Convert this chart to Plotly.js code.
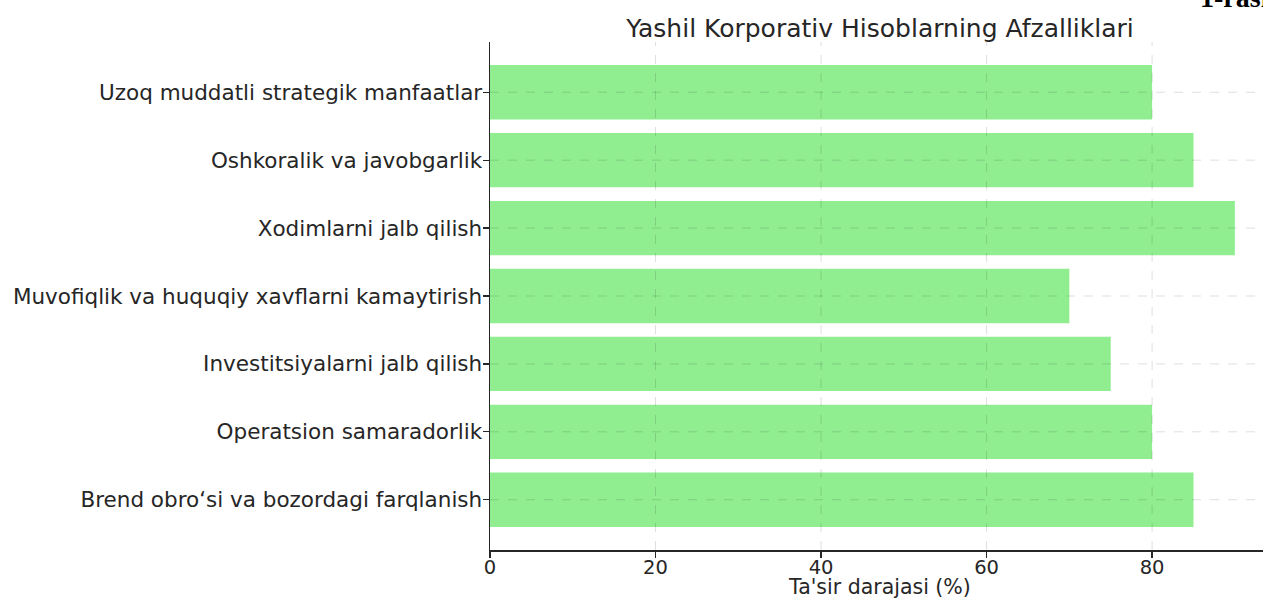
<!DOCTYPE html>
<html>
<head>
<meta charset="utf-8">
<script src="https://cdn.plot.ly/plotly-3.0.1.min.js"></script>
<style>html,body{margin:0;padding:0;background:#fff;}#chart{width:1263px;height:598px;}</style>
</head>
<body>
<div id="chart"></div>
<script>
const categories = [
  "Uzoq muddatli strategik manfaatlar",
  "Oshkoralik va javobgarlik",
  "Xodimlarni jalb qilish",
  "Muvofiqlik va huquqiy xavflarni kamaytirish",
  "Investitsiyalarni jalb qilish",
  "Operatsion samaradorlik",
  "Brend obro\u2018si va bozordagi farqlanish"
];
const values = [80, 85, 90, 70, 75, 80, 85];
const xTicks = [0, 20, 40, 60, 80];
const titleText = "Yashil Korporativ Hisoblarning Afzalliklari";
const xTitle = "Ta'sir darajasi (%)";
const cornerText = "1-rasm";

const font = "DejaVu Sans, sans-serif";
const textColor = "#262626";
const gridStyle = {color: "rgba(0,0,0,0.13)", width: 1, dash: "dash"};

const trace = {
  type: "bar",
  orientation: "h",
  y: categories,
  x: values,
  width: 0.8,
  marker: {color: "#90EE90"},
  hoverinfo: "x+y"
};

// gridlines drawn above the bars (as in the reference), generated from the tick arrays
const gridShapes = [];
xTicks.slice(1).forEach(v => gridShapes.push({
  type: "line", layer: "above", xref: "x", yref: "paper",
  x0: v, x1: v, y0: 0, y1: 1, line: gridStyle
}));
categories.forEach((c, i) => gridShapes.push({
  type: "line", layer: "above", xref: "paper", yref: "y",
  x0: 0, x1: 1, y0: i, y1: i, line: gridStyle
}));

const layout = {
  width: 1263, height: 598,
  margin: {l: 490, r: 0, t: 42, b: 48, pad: 0},
  paper_bgcolor: "#fff", plot_bgcolor: "#fff",
  showlegend: false,
  title: {
    text: titleText,
    font: {family: font, size: 25, color: textColor},
    xref: "paper", x: 0.5045, xanchor: "center",
    yref: "container", y: 0.952, yanchor: "middle"
  },
  xaxis: {
    range: [0, 93.4],
    tickvals: xTicks,
    ticktext: xTicks.map(String),
    ticks: "outside", ticklen: 6, tickwidth: 1.2, tickcolor: textColor,
    showline: true, linecolor: textColor, linewidth: 1.5,
    showgrid: false, zeroline: false,
    layer: "above traces",
    tickfont: {family: font, size: 19.5, color: textColor},
    ticklabelstandoff: -7,
    fixedrange: true
  },
  yaxis: {
    type: "category",
    categoryorder: "array",
    categoryarray: categories,
    autorange: false,
    range: [6.74, -0.74],
    ticks: "outside", ticklen: 6, tickwidth: 1.2, tickcolor: textColor,
    showline: true, linecolor: textColor, linewidth: 1.5,
    showgrid: false, zeroline: false,
    layer: "above traces",
    tickfont: {family: font, size: 21.5, color: textColor},
    ticklabelstandoff: -4,
    fixedrange: true
  },
  shapes: gridShapes,
  annotations: [
    {
      text: xTitle,
      xref: "paper", yref: "paper",
      x: 0.5045, y: 0, yshift: -37,
      xanchor: "center", yanchor: "middle",
      showarrow: false,
      font: {family: font, size: 20.5, color: textColor}
    },
    {
      text: "<b>" + cornerText + "</b>",
      xref: "paper", yref: "paper",
      x: 0.916, y: 1.0,
      xanchor: "left", yanchor: "bottom",
      yshift: 27,
      showarrow: false,
      font: {family: "Liberation Serif, serif", size: 28, color: "#000"}
    }
  ]
};
Plotly.newPlot("chart", [trace], layout, {displayModeBar: false, staticPlot: true});
</script>
</body>
</html>
